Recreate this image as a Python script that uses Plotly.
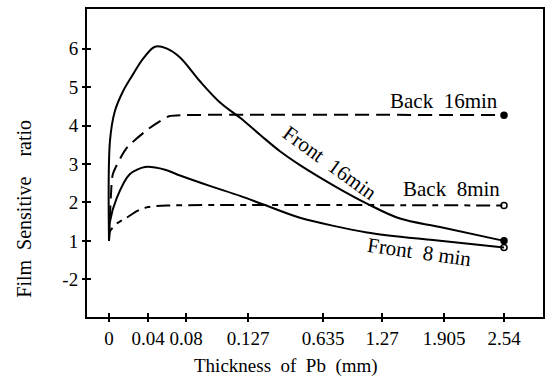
import numpy as np
import plotly.graph_objects as go

# ---- data ----
tick_mm = [0, 0.04, 0.08, 0.127, 0.635, 1.27, 1.905, 2.54]
tick_labels = ["0", "0.04", "0.08", "0.127", "0.635", "1.27", "1.905", "2.54"]
y_tickvals = [0, 1, 2, 3, 4, 5, 6]
y_ticktext = ["-2", "1", "2", "3", "4", "5", "6"]

front16_x = [0, 0.001, 0.006, 0.0144, 0.0246, 0.035, 0.0474, 0.060, 0.0737,
             0.0906, 0.1058, 0.1210, 0.2083, 0.3437, 0.479, 0.764, 1.108, 1.454, 1.864, 2.54]
front16_y = [1.0, 3.6, 4.37, 4.89, 5.33, 5.74, 6.05, 6.0, 5.77,
             5.15, 4.6, 4.2, 3.76, 3.33, 2.97, 2.42, 1.97, 1.58, 1.36, 1.0]

front8_x = [0, 0.001, 0.008, 0.0215, 0.037, 0.058, 0.0737, 0.098, 0.121, 0.222,
            0.479, 1.108, 1.792, 2.54]
front8_y = [1.0, 1.5, 2.12, 2.74, 2.92, 2.85, 2.7, 2.43, 2.17, 1.96,
            1.6, 1.22, 1.02, 0.83]

back16_x = [0, 0.002, 0.004, 0.018, 0.0414, 0.0621, 0.08, 2.54]
back16_y = [1.0, 2.2, 2.74, 3.41, 3.93, 4.24, 4.27, 4.27]

back8_x = [0, 0.001, 0.008, 0.018, 0.029, 0.04, 0.06, 2.54]
back8_y = [1.0, 1.25, 1.45, 1.6, 1.78, 1.88, 1.92, 1.92]

# ---- axis scale (non-uniform x axis) ----
tick_pos = [0, 39, 77, 139, 214, 273, 335, 395]


def to_disp(mm):
    return np.interp(mm, tick_mm, tick_pos)


FONT = "Liberation Serif, Times New Roman, serif"
fig = go.Figure()


def add_curve(xs, ys, dash, marker_symbol, smoothing=1.0):
    xd = to_disp(xs)
    fig.add_trace(go.Scatter(x=xd, y=ys, mode="lines",
                             line=dict(color="black", width=2, dash=dash, shape="spline", smoothing=smoothing),
                             showlegend=False, hoverinfo="skip"))
    if marker_symbol:
        fig.add_trace(go.Scatter(x=[xd[-1]], y=[ys[-1]], mode="markers",
                                 marker=dict(symbol=marker_symbol, size=6, color="black",
                                             line=dict(color="black", width=1.5)),
                                 showlegend=False, hoverinfo="skip"))


add_curve(front16_x, front16_y, "solid", "circle", 1.0)
add_curve(front8_x, front8_y, "solid", "circle-open", 0.8)
add_curve(back16_x, back16_y, "14px,7px", "circle", 0.6)
add_curve(back8_x, back8_y, "14px,6px,6px,6px", "circle-open", 0.6)

# invisible trace for overlay axes
fig.add_trace(go.Scatter(x=[0], y=[0], xaxis="x2", yaxis="y2", mode="markers",
                         marker=dict(opacity=0), showlegend=False, hoverinfo="skip"))

xr = [-22, 434]
yr = [-0.98, 7.03]
tickfont = dict(family=FONT, size=19, color="black")

fig.update_layout(
    width=552, height=379,
    margin=dict(l=87, r=9, t=7, b=62),
    paper_bgcolor="white", plot_bgcolor="white",
    xaxis=dict(range=xr, tickmode="array", tickvals=list(to_disp(tick_mm)), ticktext=tick_labels,
               ticks="outside", ticklen=3, tickwidth=1.5, tickcolor="black",
               showline=True, linecolor="black", linewidth=2, mirror=True,
               showgrid=False, zeroline=False, tickfont=tickfont),
    yaxis=dict(range=yr, tickmode="array", tickvals=y_tickvals, ticktext=y_ticktext,
               ticks="outside", ticklen=3, tickwidth=1.5, tickcolor="black",
               showline=True, linecolor="black", linewidth=2, mirror=True,
               showgrid=False, zeroline=False, tickfont=tickfont),
    xaxis2=dict(range=xr, overlaying="x", tickmode="array", tickvals=list(to_disp(tick_mm)),
                ticks="inside", ticklen=4, tickwidth=1.5, tickcolor="black",
                showticklabels=False, showline=False, showgrid=False, zeroline=False),
    yaxis2=dict(range=yr, overlaying="y", tickmode="array", tickvals=y_tickvals,
                ticks="inside", ticklen=4, tickwidth=1.5, tickcolor="black",
                showticklabels=False, showline=False, showgrid=False, zeroline=False),
)

labfont = dict(family=FONT, size=21, color="black")
fig.add_annotation(x=335, y=4.65, xref="x", yref="y", text="Back  16min", showarrow=False, font=labfont)
fig.add_annotation(x=342, y=2.35, xref="x", yref="y", text="Back  8min", showarrow=False, font=labfont)
fig.add_annotation(x=221, y=3.03, xref="x", yref="y", text="Front  16min", showarrow=False,
                   font=labfont, textangle=36)
fig.add_annotation(x=310, y=0.70, xref="x", yref="y", text="Front  8 min", showarrow=False,
                   font=labfont, textangle=8)

fig.add_annotation(x=-0.14, y=1.84, xref="paper", yref="y", xanchor="center", yanchor="middle",
                   text="Film  Sensitive    ratio",
                   showarrow=False, textangle=-90, font=dict(family=FONT, size=20, color="black"))
fig.add_annotation(x=177, y=-0.158, xref="x", yref="paper", xanchor="center", yanchor="middle",
                   text="Thickness  of  Pb  (mm)", showarrow=False,
                   font=dict(family=FONT, size=19, color="black"))

fig.write_html("out.html")
